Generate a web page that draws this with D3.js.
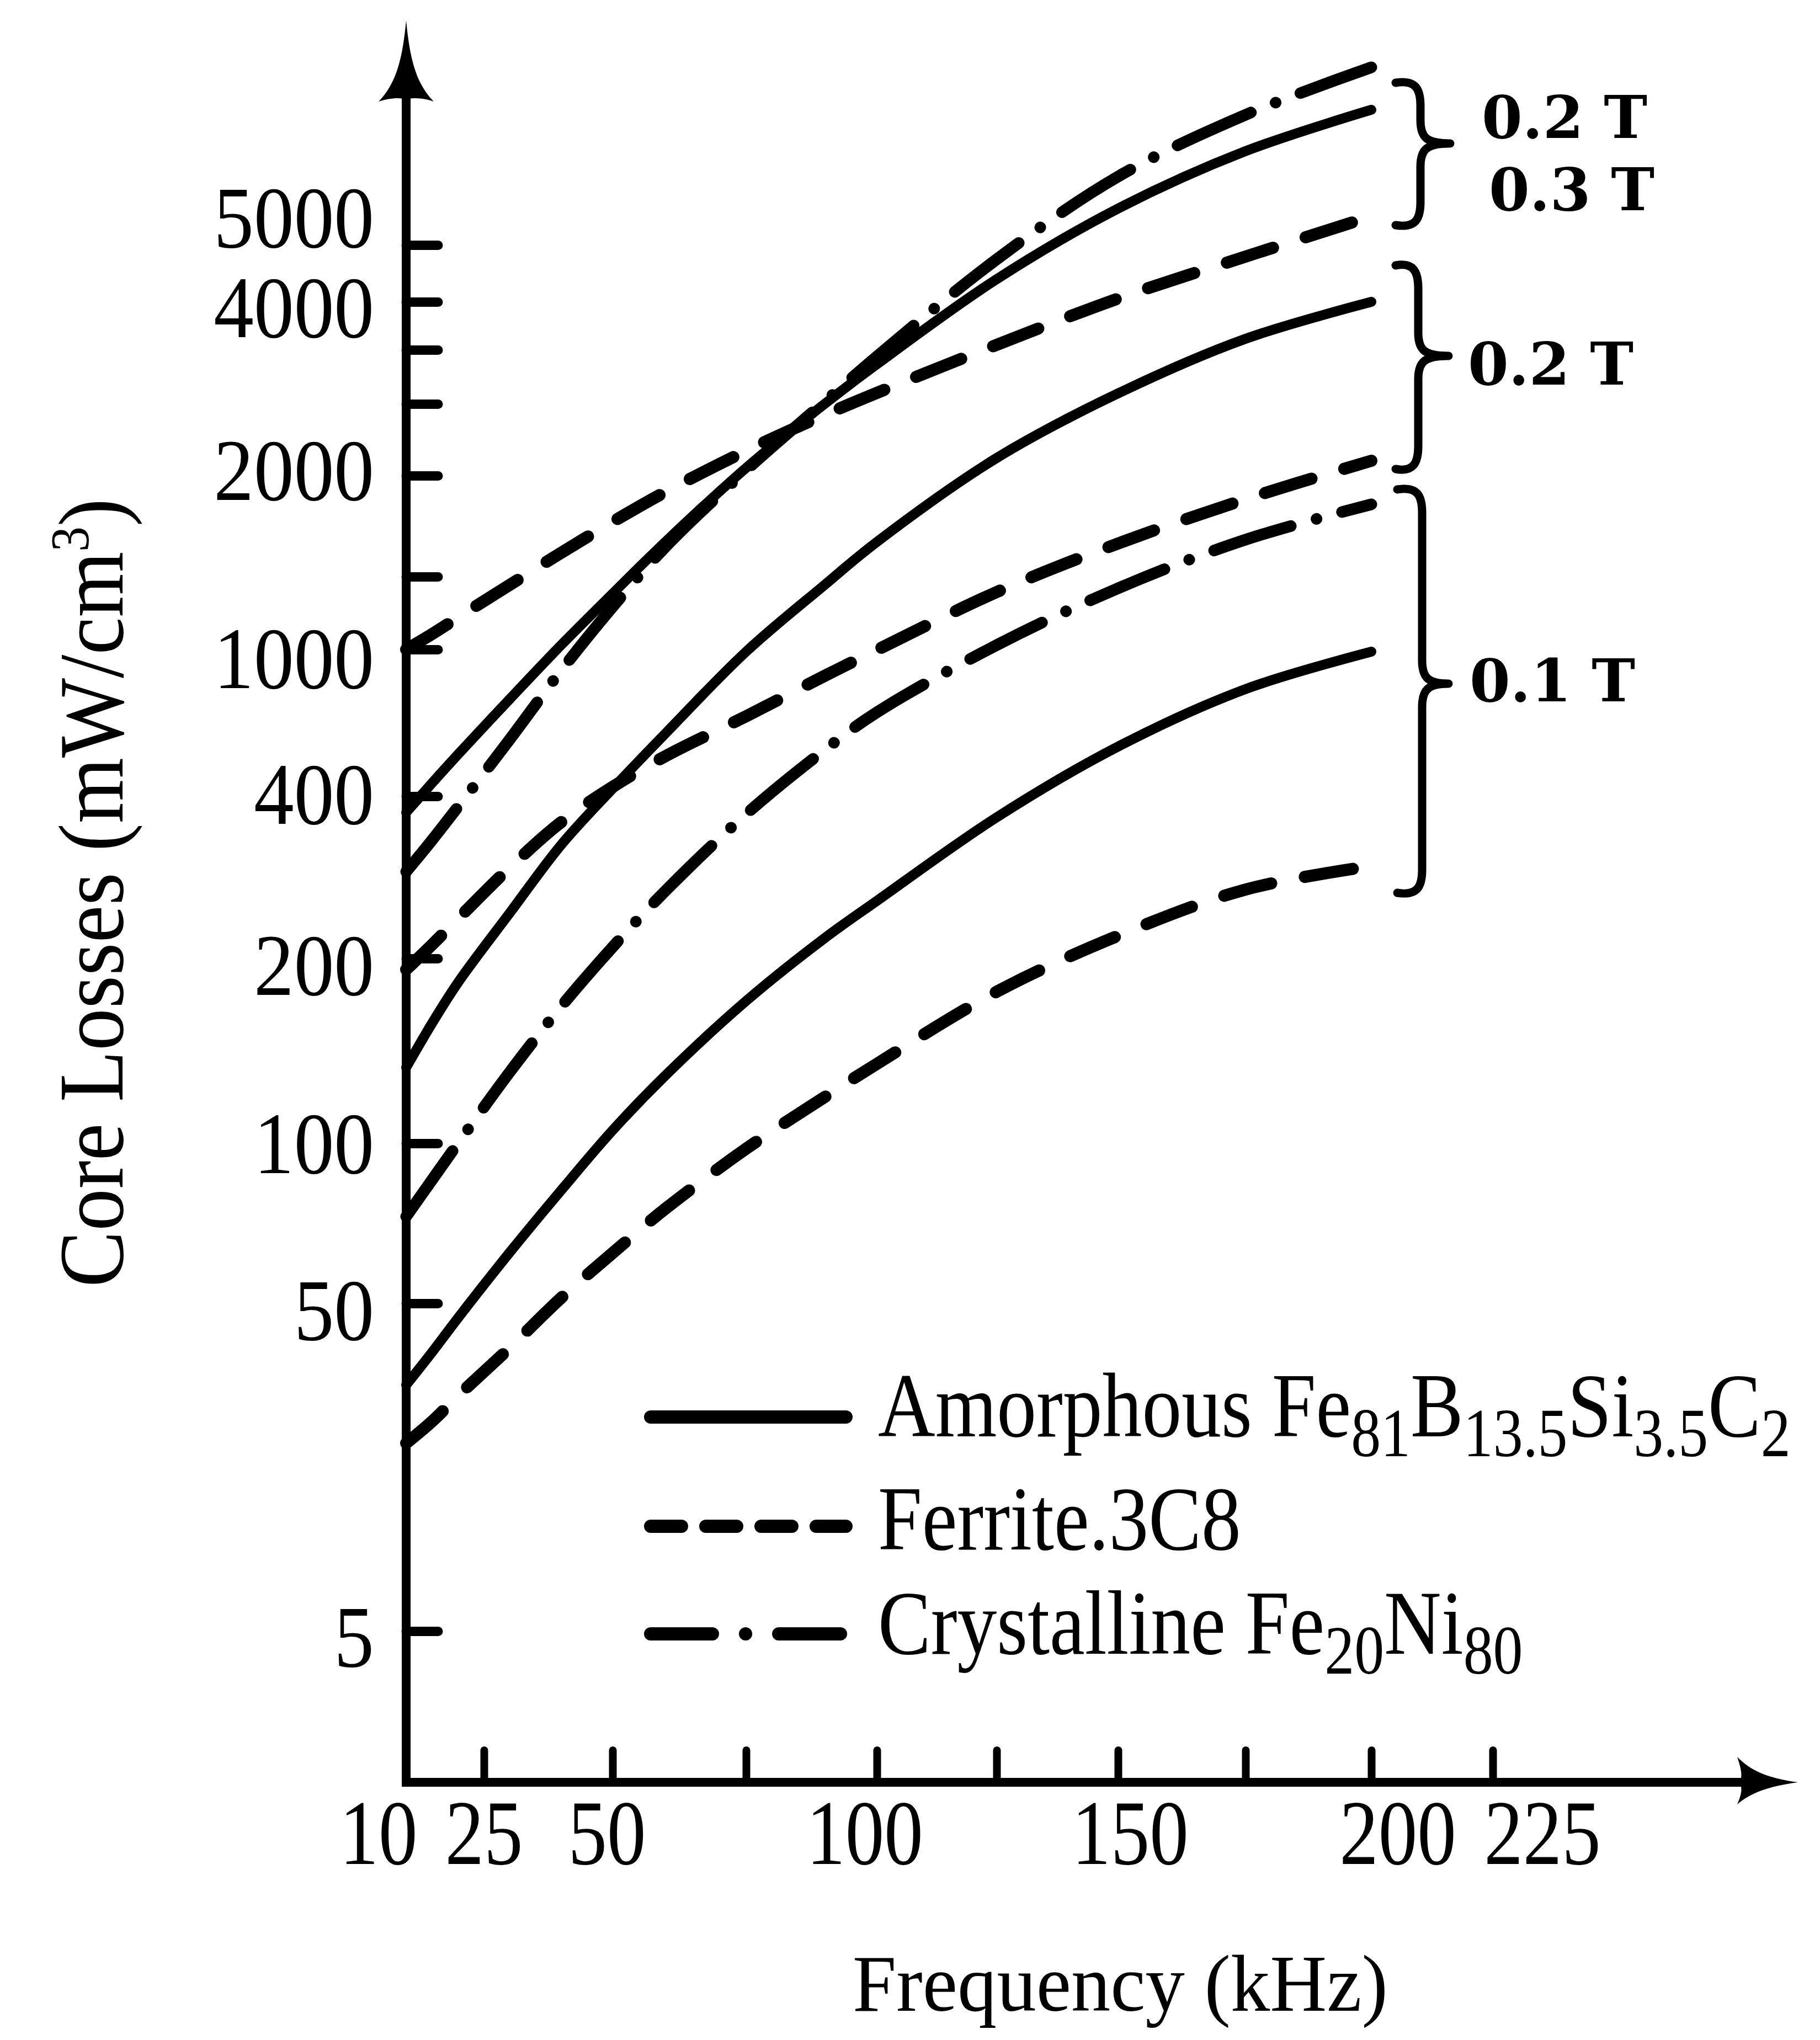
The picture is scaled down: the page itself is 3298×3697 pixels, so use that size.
<!DOCTYPE html>
<html><head><meta charset="utf-8">
<script src="https://cdn.jsdelivr.net/npm/d3@7"></script>
<style>html,body{margin:0;padding:0;background:#fff;}svg{display:block;}</style>
</head><body>
<svg id="chart" width="3298" height="3697"></svg>
<script>
// ---------------- data ----------------
const frequencies   = [10, 15, 20, 30, 40, 50, 60, 75, 90, 100, 125, 150, 175, 200]; // kHz
const crystalline02 = [307, 346, 387, 632, 914, 1292, 1650, 2038, 2520, 2939, 4748, 6204, 7291, 8126];
const amorphous03   = [380, 454, 571, 797, 1030, 1383, 1675, 2054, 2500, 2867, 4398, 5641, 6651, 7379];
const ferrite03     = [1000, 1106, 1220, 1443, 1618, 1771, 1921, 2173, 2423, 2602, 3104, 4058, 4796, 5505];
const amorphous02   = [141, 165, 187, 256, 340, 431, 659, 991, 1443, 1672, 2123, 2597, 3230, 4000];
const ferrite02     = [194, 217, 249, 312, 368, 438, 565, 727, 892, 998, 1394, 1664, 1883, 2104];
const crystalline01 = [77.1, 88.6, 100, 138.5, 174, 214, 284, 378, 589, 743, 1030, 1420, 1683, 1858];
const amorphous01   = [38.8, 43.3, 48.0, 65.9, 85.3, 107, 137, 177, 225, 271, 374, 603, 838, 991];
const ferrite01     = [30.8, 33.8, 37.3, 43.9, 51.7, 65.7, 79.7, 98.3, 125, 143, 182, 228, 285, 314];

const seriesMaterial = ["crystalline", "amorphous", "ferrite", "amorphous", "ferrite", "crystalline", "amorphous", "ferrite"];
const seriesValues   = [crystalline02, amorphous03, ferrite03, amorphous02, ferrite02, crystalline01, amorphous01, ferrite01];

const yTickValues = [5, 50, 100, 200, 400, 1000, 1500, 2000, 2500, 3000, 4000, 5000];
const yTickLabels = ["5", "50", "100", "200", "400", "1000", "", "2000", "", "", "4000", "5000"];
const xTickValues = [25, 50, 75, 100, 125, 150, 175, 200, 225];
const xLabelValues = [10, 25, 50, 100, 150, 200, 225];

const legendMaterials = ["amorphous", "ferrite", "crystalline"];
const legendLabels = [
  [["Amorphous Fe", 0], ["81", 1], ["B", 0], ["13.5", 1], ["Si", 0], ["3.5", 1], ["C", 0], ["2", 1]],
  [["Ferrite.3C8", 0]],
  [["Crystalline Fe", 0], ["20", 1], ["Ni", 0], ["80", 1]]
];
const groupLabels = [["0.2 T", "0.3 T"], ["0.2 T"], ["0.1 T"]];

// ---------------- layout ----------------
const W = 3298, H = 3697;
const AXIS_X = 736, AXIS_Y = 3230;
// the printed axes are hand-drawn and non-uniform: piecewise scales
const X_RANGE = [736, 877, 1110, 1352, 1589, 1806, 2026, 2257, 2485, 2705];
const Y_RANGE = [2956, 2362, 2072, 1737, 1443, 1177, 1045, 862, 732, 634, 547, 444];
const xLabelShift = [-50, 0, -10, -22, 22, 48, 90];
const yLabelShift = [10, 12, 0, 12, -4, 16, 0, -10, 0, 0, 10, -50];
const STYLES = {
  amorphous:   {w: 18, dash: null},
  ferrite:     {w: 22, dash: "88 62"},
  crystalline: {w: 21, dash: "146 48 0.1 48"}
};
const LEGEND_STYLES = {
  amorphous:   {w: 24, dash: null},
  ferrite:     {w: 24, dash: "56 44"},
  crystalline: {w: 24, dash: "112 60 0.1 60"}
};
const BRACES = [
  {x0: 2529, xs: 2574, xt: 2628, top: 150, mid: 260, bottom: 408},
  {x0: 2529, xs: 2570, xt: 2625, top: 481, mid: 645, bottom: 850},
  {x0: 2532, xs: 2577, xt: 2625, top: 887, mid: 1239, bottom: 1618}
];
const BRACE_TEXT = [
  [{x: 2685, y: 250}, {x: 2698, y: 381}],
  [{x: 2660, y: 697}],
  [{x: 2663, y: 1271}]
];

const SERIF = "'Liberation Serif', 'Times New Roman', serif";

const x = d3.scaleLinear().domain([10, ...xTickValues]).range(X_RANGE);
const y = d3.scaleLinear().domain(yTickValues).range(Y_RANGE);

const svg = d3.select("#chart");
svg.append("rect").attr("width", W).attr("height", H).attr("fill", "#fff");

function condText(parent, tx, ty, sx, anchor, size, family, weight) {
  const g = parent.append("g").attr("transform", `translate(${tx},${ty}) scale(${sx},1)`);
  return g.append("text").attr("x", 0).attr("y", 0)
    .attr("text-anchor", anchor).attr("font-size", size)
    .attr("font-family", family).attr("font-weight", weight || "normal").attr("fill", "#000");
}

// ---------------- axes ----------------
const yAxisG = svg.append("g").attr("transform", `translate(${AXIS_X},0)`)
  .call(d3.axisLeft(y).tickValues(yTickValues).tickSize(-58).tickFormat(""));
yAxisG.select(".domain").remove();
yAxisG.selectAll(".tick line").attr("stroke", "#000").attr("stroke-width", 17).attr("stroke-linecap", "round");

const xAxisG = svg.append("g").attr("transform", `translate(0,${AXIS_Y})`)
  .call(d3.axisBottom(x).tickValues(xTickValues).tickSize(-58).tickFormat(""));
xAxisG.select(".domain").remove();
xAxisG.selectAll(".tick line").attr("stroke", "#000").attr("stroke-width", 14).attr("stroke-linecap", "round");

svg.append("line").attr("x1", AXIS_X).attr("y1", AXIS_Y + 7).attr("x2", AXIS_X).attr("y2", 172)
  .attr("stroke", "#000").attr("stroke-width", 16);
svg.append("line").attr("x1", AXIS_X - 8).attr("y1", AXIS_Y).attr("x2", 3200).attr("y2", AXIS_Y)
  .attr("stroke", "#000").attr("stroke-width", 16);
// arrowheads
svg.append("path").attr("fill", "#000")
  .attr("d", `M${AXIS_X},37 C${AXIS_X + 6},100 ${AXIS_X + 16},150 ${AXIS_X + 50},184 C${AXIS_X + 32},178 ${AXIS_X + 12},176 ${AXIS_X},180 C${AXIS_X - 12},176 ${AXIS_X - 32},178 ${AXIS_X - 50},184 C${AXIS_X - 16},150 ${AXIS_X - 6},100 ${AXIS_X},37 Z`);
svg.append("path").attr("fill", "#000")
  .attr("d", `M3258,${AXIS_Y} C3200,${AXIS_Y - 8} 3172,${AXIS_Y - 22} 3148,${AXIS_Y - 46} C3156,${AXIS_Y - 22} 3158,${AXIS_Y - 10} 3152,${AXIS_Y} C3158,${AXIS_Y + 10} 3156,${AXIS_Y + 22} 3148,${AXIS_Y + 40} C3172,${AXIS_Y + 20} 3200,${AXIS_Y + 8} 3258,${AXIS_Y} Z`);

// tick labels
yTickValues.forEach((v, i) => {
  if (!yTickLabels[i]) return;
  condText(svg, AXIS_X - 58, y(v) + 54 + yLabelShift[i], 0.92, "end", 158, SERIF).text(yTickLabels[i]);
});
xLabelValues.forEach((v, i) => {
  condText(svg, x(v) + xLabelShift[i], 3378, 0.84, "middle", 168, SERIF).text(String(v));
});

// axis titles
const yt = svg.append("g").attr("transform", "translate(222,1618) rotate(-90) scale(0.91,1)")
  .append("text").attr("text-anchor", "middle").attr("font-size", 168).attr("font-family", SERIF).attr("fill", "#000");
yt.append("tspan").text("Core Losses (mW/cm");
yt.append("tspan").attr("font-size", 100).attr("dy", -62).text("3");
yt.append("tspan").attr("dy", 62).text(")");

condText(svg, 2030, 3644, 0.97, "middle", 147, SERIF).text("Frequency (kHz)");

// ---------------- curves ----------------
const line = d3.line()
  .x(d => x(d.f))
  .y(d => y(d.v))
  .curve(d3.curveCatmullRom.alpha(0.5));

seriesValues.forEach((vals, i) => {
  const st = STYLES[seriesMaterial[i]];
  const pts = frequencies.map((f, j) => ({f: f, v: vals[j]}));
  svg.append("path").datum(pts)
    .attr("d", line)
    .attr("fill", "none").attr("stroke", "#000")
    .attr("stroke-width", st.w)
    .attr("stroke-linecap", "round").attr("stroke-linejoin", "round")
    .attr("stroke-dasharray", st.dash);
});

// ---------------- braces + induction labels ----------------
BRACES.forEach((b, i) => {
  const r = 42;
  const d = `M${b.x0},${b.top} C${b.xs - 8},${b.top - 6} ${b.xs},${b.top + 12} ${b.xs},${b.top + r}` +
    ` L${b.xs},${b.mid - r} C${b.xs},${b.mid - 10} ${b.xs + 12},${b.mid} ${b.xt},${b.mid}` +
    ` C${b.xs + 12},${b.mid} ${b.xs},${b.mid + 10} ${b.xs},${b.mid + r}` +
    ` L${b.xs},${b.bottom - r} C${b.xs},${b.bottom - 12} ${b.xs - 8},${b.bottom + 6} ${b.x0},${b.bottom}`;
  svg.append("path").attr("d", d).attr("fill", "none").attr("stroke", "#000")
    .attr("stroke-width", 15).attr("stroke-linecap", "round").attr("stroke-linejoin", "round");
  groupLabels[i].forEach((lab, k) => {
    const p = BRACE_TEXT[i][k];
    svg.append("text").attr("x", p.x).attr("y", p.y)
      .attr("font-family", "'DejaVu Serif', serif").attr("font-weight", "bold")
      .attr("font-size", 106).attr("fill", "#000").text(lab);
  });
});

// ---------------- legend ----------------
const LEG_X0 = 1179, LEG_X1 = 1533, LEG_TX = 1591;
const LEG_LINE_Y = [2568, 2766, 2961];
const LEG_BASE_Y = [2603, 2808, 2997];
legendMaterials.forEach((m, i) => {
  const st = LEGEND_STYLES[m];
  svg.append("line").attr("x1", LEG_X0).attr("x2", LEG_X1)
    .attr("y1", LEG_LINE_Y[i]).attr("y2", LEG_LINE_Y[i])
    .attr("stroke", "#000").attr("stroke-width", st.w).attr("stroke-linecap", "round")
    .attr("stroke-dasharray", st.dash);
  const t = condText(svg, LEG_TX, LEG_BASE_Y[i], 0.87, "start", 165, SERIF);
  let sub = false;
  legendLabels[i].forEach(([s, isSub]) => {
    const ts = t.append("tspan").text(s);
    if (isSub && !sub) { ts.attr("dy", 36).attr("font-size", 124); sub = true; }
    else if (isSub) { ts.attr("font-size", 124); }
    else if (!isSub && sub) { ts.attr("dy", -36); sub = false; }
  });
});
</script>
</body></html>
